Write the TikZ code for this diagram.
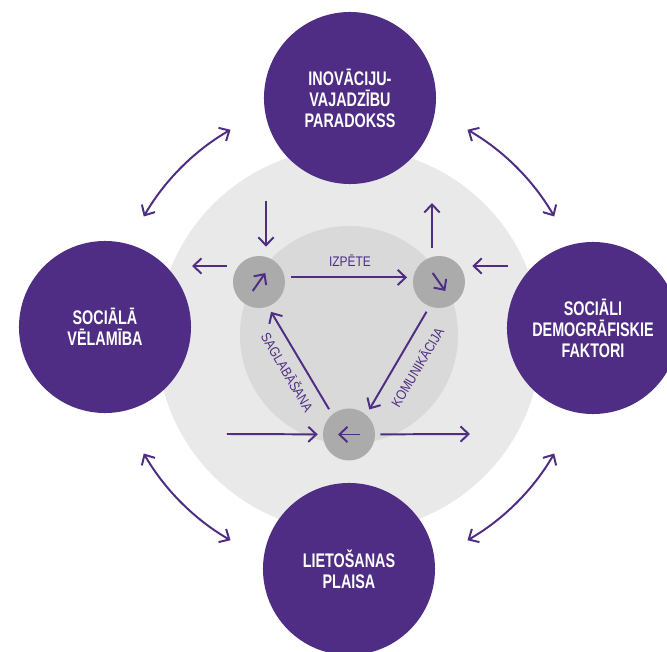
\documentclass[tikz,border=0pt]{standalone}
\usepackage{fontspec}
\usetikzlibrary{arrows.meta, calc, positioning}

\newfontfamily\headfont{Liberation Sans}[FakeStretch=0.73]
\newfontfamily\tagfont{Liberation Sans}[FakeStretch=0.86]

\definecolor{deeppurple}{RGB}{79,45,132}
\definecolor{ringgrey}{RGB}{233,233,233}
\definecolor{coregrey}{RGB}{217,217,217}
\definecolor{stagegrey}{RGB}{171,171,171}

\begin{document}
\begin{tikzpicture}[
  x=0.025cm, y=0.025cm,
  >={Straight Barb[length=2mm, width=3.8mm]},
  factor/.style={circle, fill=deeppurple, minimum size=4.3cm, inner sep=0pt, align=center,
    text=white, font=\headfont\bfseries\fontsize{14}{15}\selectfont},
  stage/.style={circle, fill=stagegrey, minimum size=1.3cm, inner sep=0pt},
  turn/.style={->, draw=deeppurple, line width=1.4pt},
  flow/.style={turn, shorten <=0.15cm, shorten >=0.15cm},
  link/.style={<->, draw=deeppurple, line width=1.4pt},
  tag/.style={text=deeppurple, inner sep=0pt, font=\tagfont\fontsize{9.9}{11}\selectfont}
]

% Page
\useasboundingbox (-349,-317) rectangle (318,335);
\fill[white] (-349,-317) rectangle (318,335);
\clip (-349,-317) rectangle (318,335);

% Grey discs
\node[circle, fill=ringgrey, minimum size=9.6cm] (ring) at (0,-5) {};
\node[circle, fill=coregrey, minimum size=5.45cm] (core) at (0,0) {};

% Outer factors
\node[factor] (paradox) at (1,237) {INOVĀCIJU-\\VAJADZĪBU\\PARADOKSS};
\node[factor] (social) at (-244,8) {SOCIĀLĀ\\VĒLAMĪBA};
\node[factor] (demog) at (244,7) {SOCIĀLI\\DEMOGRĀFISKIE\\FAKTORI};
\node[factor] (gap) at (0,-234) {LIETOŠANAS\\PLAISA};

% Stages
\node[stage] (explore) at (-90,53) {};
\node[stage] (share) at (90,53) {};
\node[stage] (keep) at (0,-99.5) {};

% Cycle
\draw[flow] (explore.10) -- (share.170);
\draw[flow] (share.249.5) -- (keep.49.5);
\draw[flow] (keep.130.5) -- (explore.290.5);

\node[tag] (lexplore) at (1,74) {IZPĒTE};
\node[tag, rotate=59.5] (lshare) at (68,-32) {KOMUNIKĀCIJA};
\node[tag, rotate=-59.5] (lkeep) at (-61,-37) {SAGLABĀŠANA};

% Arrows inside the stages
\draw[turn] (explore) ++(235:11) -- ++(55:22);
\draw[turn] (share) ++(125:11) -- ++(-55:22);
\draw[turn] (keep) ++(0:11) -- ++(180:22);

% Loose ends of the feed arrows
\coordinate (topin) at (-83,134);
\coordinate (topout) at (83,132);
\coordinate (leftout) at (-157,69);
\coordinate (rightin) at (159,69);
\coordinate (botin) at (-122,-99);
\coordinate (botout) at (121,-99);

% Feed arrows
\draw[flow, shorten <=0pt, shorten >=0.225cm] (topin) -- (topin |- explore.north);
\draw[flow, shorten <=0.2cm, shorten >=0pt] (topout |- share.north) -- (topout);
\draw[flow, shorten >=0pt] (leftout -| explore.west) -- (leftout);
\draw[flow, shorten <=0pt, shorten >=0.175cm] (rightin) -- (rightin -| share.east);
\draw[flow, shorten <=0pt, shorten >=0.125cm] (botin) -- (keep);
\draw[flow, shorten <=0.125cm, shorten >=0pt] (keep) -- (botout);

% Links between the factors
\coordinate (ne) at (30:237);
\coordinate (nw) at (120:237);
\coordinate (sw) at (210:237);
\coordinate (se) at (300:237);
\draw[link] (ne) arc[start angle=30, end angle=60, radius=237];
\draw[link] (nw) arc[start angle=120, end angle=150, radius=237];
\draw[link] (sw) arc[start angle=210, end angle=240, radius=237];
\draw[link] (se) arc[start angle=300, end angle=330, radius=237];

\end{tikzpicture}
\end{document}
